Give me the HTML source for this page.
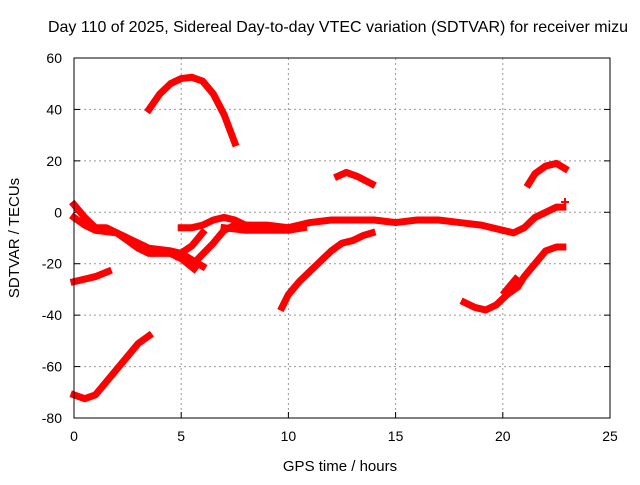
<!DOCTYPE html>
<html><head><meta charset="utf-8"><style>
body{margin:0;background:#fff}
svg text{font-family:"Liberation Sans",sans-serif;fill:#000}
</style></head><body>
<svg id="c" width="640" height="480">
<text x="338" y="32" font-size="16" text-anchor="middle">Day 110 of 2025, Sidereal Day-to-day VTEC variation (SDTVAR) for receiver mizu</text>
<text x="340" y="471" font-size="15" text-anchor="middle">GPS time / hours</text>
<text x="19" y="238" font-size="15" text-anchor="middle" transform="rotate(-90 19 238)">SDTVAR / TECUs</text>
<g id="grid"></g><g id="marks"></g>
<rect x="74" y="58" width="536" height="360" fill="none" stroke="#000" stroke-width="1"/>
</svg>
<script>
const xTicks=[0,5,10,15,20,25];
const yTicks=[-80,-60,-40,-20,0,20,40,60];
const trackTopArc=[[3.5,40],[4,46],[4.5,50],[5,52],[5.5,52.5],[6,51],[6.5,46],[7,38],[7.5,27]];
const trackBottomLeft=[[0,-71],[0.5,-72.5],[1,-71],[1.5,-66],[2,-61],[2.5,-56],[3,-51],[3.5,-48]];
const trackLeftLow=[[0,-27],[0.5,-26],[1,-25],[1.6,-23]];
const trackDescA=[[0,3],[0.5,-2],[1,-6],[1.5,-6],[2,-8],[2.5,-11],[3,-14],[3.5,-16],[4,-16],[4.5,-16],[5,-18],[5.6,-22]];
const trackDescB=[[0,-2],[0.5,-5],[1,-7],[2,-8],[3,-12],[3.5,-14],[4.5,-15],[5,-16],[6,-21]];
const trackFlat=[[5,-6],[5.5,-6],[6,-5],[6.5,-3],[7,-2],[7.5,-3],[8,-5],[9,-5],[10,-6],[11,-4],[12,-3],[13,-3],[14,-3],[15,-4],[16,-3],[17,-3],[18,-4],[19,-5],[20,-7],[20.5,-8],[21,-6],[21.5,-2],[22,0],[22.5,2],[22.8,2]];
const trackFlatLow=[[7,-6],[8,-7],[9,-7],[10,-7],[10.7,-6]];
const trackBranchA=[[5.8,-18],[6.5,-12],[7,-7],[7.5,-5],[8,-5]];
const trackBranchB=[[4.8,-17],[5.5,-13],[6,-8]];
const trackRise=[[9.7,-37],[10,-32],[10.5,-27],[11,-23],[11.5,-19],[12,-15],[12.5,-12],[13,-11],[13.5,-9],[13.9,-8]];
const trackMidArc=[[12.3,14],[12.7,15.5],[13.2,14],[13.9,11]];
const trackRightLow=[[18.2,-35],[18.7,-37],[19.2,-38],[19.7,-36],[20.2,-32],[20.7,-29],[21,-25],[21.5,-20],[22,-15],[22.5,-13.5],[22.8,-13.5]];
const trackRightBranch=[[20.1,-31],[20.6,-26]];
const trackRightArc=[[21.2,11],[21.5,15],[22,18],[22.5,19],[22.9,17]];
const trackSinglePoint=[[22.9,4]];
const X=v=>74+v*536/25, Y=v=>58+(60-v)*360/140;
const NS="http://www.w3.org/2000/svg";
const grid=document.getElementById('grid'), marks=document.getElementById('marks');
function mk(t,a,p){const e=document.createElementNS(NS,t);for(const k in a)e.setAttribute(k,a[k]);p.appendChild(e);return e;}
xTicks.forEach(v=>{
  if(v>0&&v<25){const l=mk('line',{x1:X(v),x2:X(v),y1:58,y2:418,stroke:'#999','stroke-dasharray':'2,3'},grid);
  
  }
  const t=mk('line',{x1:X(v),x2:X(v),y1:418,y2:412,stroke:'#000'},grid);
  
  
  const tx=mk('text',{x:X(v),y:441,'font-size':14,'text-anchor':'middle'},grid);tx.textContent=v;
  
  
});
yTicks.forEach(v=>{
  if(v>-80&&v<60){const l=mk('line',{x1:74,x2:610,y1:Y(v),y2:Y(v),stroke:'#999','stroke-dasharray':'2,3'},grid);
  
  }
  const t=mk('line',{x1:74,x2:80,y1:Y(v),y2:Y(v),stroke:'#000'},grid);
  
  
  const t2=mk('line',{x1:604,x2:610,y1:Y(v),y2:Y(v),stroke:'#000'},grid);
  
  
  const tx=mk('text',{x:62,y:Y(v)+5,'font-size':14,'text-anchor':'end'},grid);tx.textContent=v;
  
  
});
const tracks=[trackTopArc,trackBottomLeft,trackLeftLow,trackDescA,trackDescB,trackFlat,trackFlatLow,trackBranchA,trackBranchB,trackRise,trackMidArc,trackRightLow,trackRightBranch,trackRightArc];
tracks.forEach(tr=>{
  const p=mk('polyline',{points:tr.map(d=>X(d[0])+','+Y(d[1])).join(' '),fill:'none',stroke:'#f00','stroke-width':7,'stroke-linejoin':'round','stroke-linecap':'square'},marks);
  
  
});
trackSinglePoint.forEach(d=>{
  const p=mk('path',{d:`M${X(d[0])-4},${Y(d[1])}h8M${X(d[0])},${Y(d[1])-4}v8`,stroke:'#f00','stroke-width':2},marks);
  
  
});
</script>
</body></html>
